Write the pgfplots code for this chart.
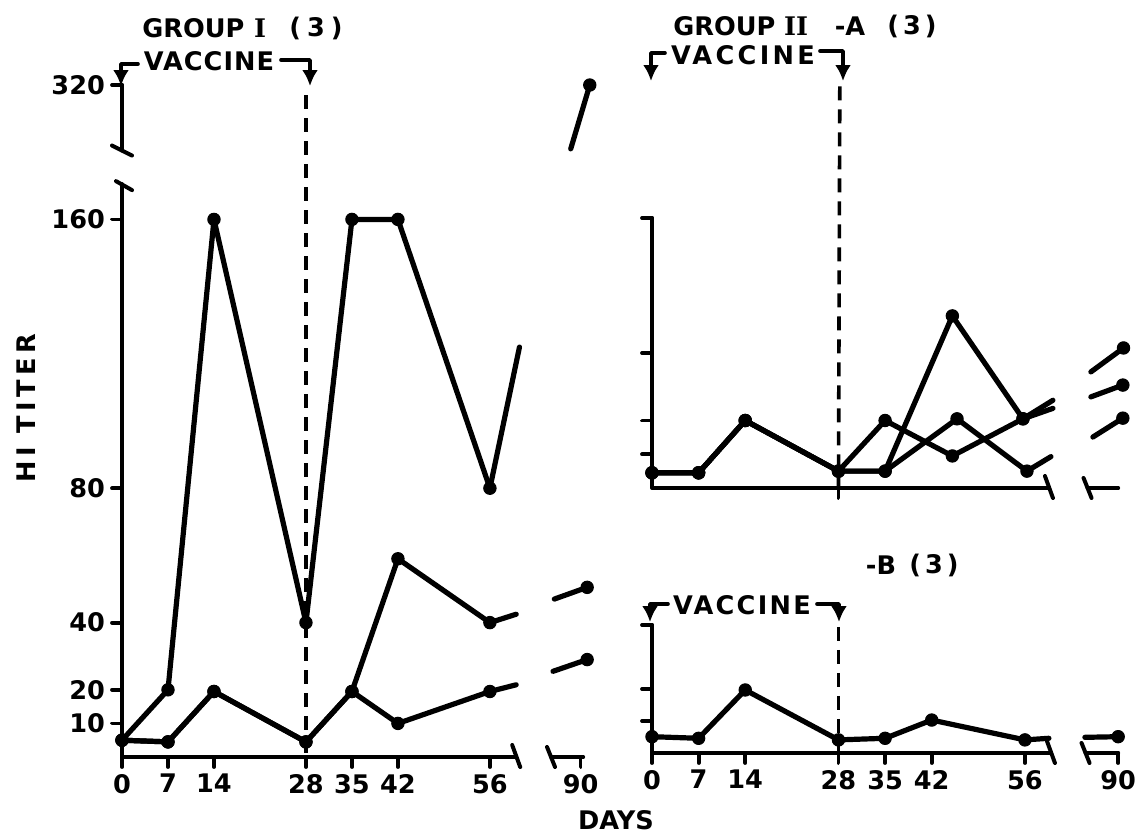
\documentclass[border=0pt]{standalone}
\usepackage{fontspec}
\setmainfont{DejaVu Sans}
\newfontfamily\romI{DejaVu Serif}
\usepackage{pgfplots}
\pgfplotsset{compat=1.18}
\usetikzlibrary{arrows.meta}
\newcommand\lf{\fontsize{12.8}{14}\selectfont\bfseries}
\newcommand\vac[1]{{\addfontfeature{LetterSpace=#1}VACCINE}}
\pgfplotsset{
  panel/.style={scale only axis, clip=false, anchor=south west,
    axis x line=bottom, axis y line=left, axis line style={draw=none},
    tick align=outside, major tick length=5pt,
    tick style={line width=1.9pt, black, line cap=round},
    xmin=0, xmax=72, ymin=0,
    ticklabel style={font=\lf},
    every axis plot/.append style={line width=2.6pt, black, line cap=round, line join=round},
  },
  ser/.style={mark=*, mark size=3.1pt, mark options={fill=black, line width=0.5pt}},
  ext/.style={no marks},
  seg/.style={mark=*, mark indices={2}, mark size=3.1pt, mark options={fill=black, line width=0.5pt}},
}
\tikzset{
  ax/.style={line width=2pt, black, line cap=round, line join=round},
  vdash/.style={line width=1.8pt, black, dash pattern=on 7pt off 4.5pt},
  brk/.style={line width=1.8pt, black, -{Latex[length=8pt,width=8pt]}},
}
\begin{document}
\begin{tikzpicture}[line cap=round, line join=round]
\path[use as bounding box] (0,0) rectangle (571pt,-418.5pt);

% ---------------- Group I ----------------
\begin{axis}[panel, at={(61pt,-378.5pt)}, width=236.52pt, height=344.4pt, ymax=205,
  xtick={0,7,14,28,35,42,56,69.8}, xticklabels={0,7,14,28,35,42,56,90},
  ytick={10,20,40,80,160,200}, yticklabels={10,20,40,80,160,320}]
\draw[vdash] (axis cs:28,197) -- (axis cs:28,0);
\addplot[ser] coordinates {(0,5)(7,20)(14,160)(28,40)(35,160)(42,160)(56,80)};
\addplot[ext] coordinates {(56,80)(60.5,122)};
\addplot[seg] coordinates {(68.3,181)(71.2,200)};
\addplot[ser] coordinates {(0,5)(7,4.5)(14,19.5)(28,4.5)(35,19.5)(42,59)(56,40)};
\addplot[ext] coordinates {(56,40)(60,42.5)};
\addplot[seg] coordinates {(65.8,47)(70.8,50.5)};
\addplot[ser] coordinates {(0,5)(7,4.5)(14,19.5)(28,4.5)(35,19.5)(42,10)(56,19.5)};
\addplot[ext] coordinates {(56,19.5)(60,21.5)};
\addplot[seg] coordinates {(65.6,25.5)(70.8,29)};
% axes with breaks
\draw[ax] (axis cs:0,170.5) -- (axis cs:0,0) -- (axis cs:60,0);
\draw[ax] ([shift={(-2pt,6pt)}]axis cs:60,0) -- ([shift={(2pt,-5pt)}]axis cs:60,0);
\draw[ax] (axis cs:65.3,0) -- (axis cs:70.2,0);
\draw[ax] ([shift={(-2pt,5pt)}]axis cs:65.3,0) -- ([shift={(2pt,-5pt)}]axis cs:65.3,0);
\draw[ax] ([shift={(-3pt,1.5pt)}]axis cs:0,170.5) -- ([shift={(5pt,-3pt)}]axis cs:0,170.5);
\draw[ax] (axis cs:0,180.5) -- (axis cs:0,200);
\draw[ax] ([shift={(-5pt,2.5pt)}]axis cs:0,180.5) -- ([shift={(5pt,-2.5pt)}]axis cs:0,180.5);
\end{axis}

% ---------------- Group II-A ----------------
\begin{axis}[panel, at={(326pt,-244pt)}, width=239.76pt, height=135pt, ymax=80,
  xtick={28}, xticklabels={,}, ytick={10,20,40,80}, yticklabels={,,,,}]
\draw[vdash] (axis cs:28.2,119) -- (axis cs:28,0);
\addplot[ser] coordinates {(0,4.5)(7,4.5)(14,20)(28,5)(35,20)(45.1,9.5)(55.7,20.5)};
\addplot[ext] coordinates {(55.7,20.5)(60.2,23.6)};
\addplot[seg] coordinates {(65.9,27)(70.7,30.5)};
\addplot[ser] coordinates {(0,4.5)(7,4.5)(14,20)(28,5)(35,5)(45.1,51)(55.7,20.5)};
\addplot[ext] coordinates {(55.7,20.5)(60.2,26)};
\addplot[seg] coordinates {(65.9,34.4)(70.8,41.5)};
\addplot[ser] coordinates {(0,4.5)(7,4.5)(14,20)(28,5)(35,5)(45.8,20.5)(56.3,5)};
\addplot[ext] coordinates {(56.3,5)(59.9,9.3)};
\addplot[seg] coordinates {(66.2,15.1)(70.7,20.7)};
\draw[ax] (axis cs:0,80) -- (axis cs:0,0) -- (axis cs:59.6,0);
\draw[ax] ([shift={(-2pt,6pt)}]axis cs:59.6,0) -- ([shift={(2pt,-5pt)}]axis cs:59.6,0);
\draw[ax] (axis cs:65.4,0) -- (axis cs:70,0);
\draw[ax] ([shift={(-2pt,5pt)}]axis cs:65.4,0) -- ([shift={(2pt,-5pt)}]axis cs:65.4,0);
\end{axis}

% ---------------- Group II-B ----------------
\begin{axis}[panel, at={(326pt,-376.5pt)}, width=239.76pt, height=64pt, ymax=40,
  xtick={0,7,14,28,35,42,56,70}, xticklabels={0,7,14,28,35,42,56,90},
  ytick={10,20,40}, yticklabels={,,,}]
\draw[vdash] (axis cs:28,39.4) -- (axis cs:28,0);
\addplot[ser] coordinates {(0,5.1)(7,4.6)(14,19.7)(28,4.1)(35,4.6)(42,10.3)(56,4.1)};
\addplot[ext] coordinates {(56,4.1)(59.6,4.6)};
\addplot[seg] coordinates {(65,4.9)(70,5.1)};
\draw[ax] (axis cs:0,40) -- (axis cs:0,0) -- (axis cs:59.9,0);
\draw[ax] ([shift={(-2pt,6pt)}]axis cs:59.9,0) -- ([shift={(2pt,-5pt)}]axis cs:59.9,0);
\draw[ax] (axis cs:65.1,0) -- (axis cs:70,0);
\draw[ax] ([shift={(-2pt,5pt)}]axis cs:65.1,0) -- ([shift={(2pt,-5pt)}]axis cs:65.1,0);
\end{axis}

% ---------------- annotations (pixel units) ----------------
\begin{scope}[x=0.5pt, y=-0.5pt, font=\lf]
\node[rotate=90] at (26,408) {\addfontfeature{LetterSpace=18}HI TITER};
\node at (616,820) {DAYS};
% Group I
\node[anchor=west, inner sep=0pt] at (142,28) {GROUP};
\node at (260,28) {\romI\bfseries I};
\node at (316,28) {(\hspace{3pt}3\hspace{3pt})};
\node at (209,61) {\vac{4}};
\draw[brk] (138,64) -- (121,64) -- (121,86);
\draw[brk] (281,60) -- (310,60) -- (310,86);
% Group II-A
\node[anchor=west, inner sep=0pt] at (673,26) {GROUP};
\node at (796,26) {\romI\bfseries II};
\node at (850,26) {-A};
\node at (912,26) {(\hspace{2pt}3\hspace{2pt})};
\node at (743,55) {\vac{13}};
\draw[brk] (665,53) -- (651,53) -- (651,81);
\draw[brk] (820,51) -- (843,51) -- (843,81);
% Group II-B
\node at (881,565) {-B};
\node at (934,565) {(\hspace{2pt}3\hspace{2pt})};
\node at (742,605) {\vac{9}};
\draw[brk] (668,604) -- (650,604) -- (650,622);
\draw[brk] (817,604) -- (839,604) -- (839,622);
\end{scope}
\end{tikzpicture}
\end{document}
